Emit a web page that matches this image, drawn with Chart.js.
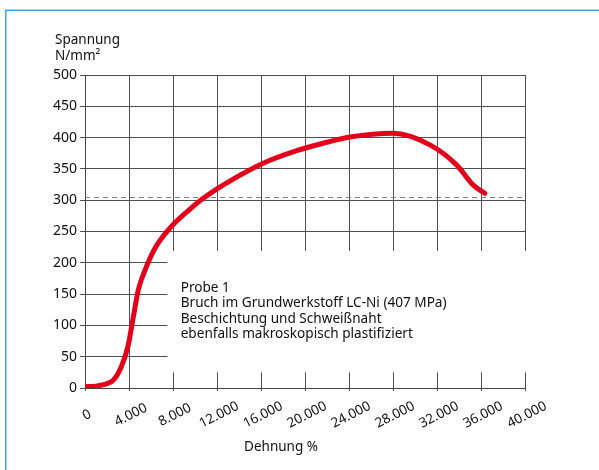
<!DOCTYPE html>
<html>
<head>
<meta charset="utf-8">
<script src="https://cdn.jsdelivr.net/npm/chart.js@4/dist/chart.umd.min.js"></script>
<style>
  html, body { margin: 0; padding: 0; background: #fff; }
  canvas { display: block; }
</style>
</head>
<body>
<canvas id="chart" width="599" height="470"></canvas>
<script>
/*********************************************************
 * DATA
 *********************************************************/
const strain = [0, 1000, 2000, 2600, 3300, 3900, 4400, 4850, 5450, 6350, 7700, 9500,
                10450, 12000, 13200, 16200, 19250, 21650, 24100, 28000, 31400, 33800, 35300, 36350];
const stress = [2, 3, 7, 13, 34, 66, 114, 157, 188, 223, 255, 285,
                299, 318, 331, 359, 379, 391, 401, 407, 388, 356, 324, 311];

const xTickValues = [0, 4000, 8000, 12000, 16000, 20000, 24000, 28000, 32000, 36000, 40000];
const xTickLabels = ["0", "4.000", "8.000", "12.000", "16.000", "20.000", "24.000", "28.000", "32.000", "36.000", "40.000"];
const yTickLabels = ["0", "50", "100", "150", "200", "250", "300", "350", "400", "450", "500"];

const refStress = 305;   // gestrichelte Linie
const yTitle = ["Spannung", "N/mm²"];
const xTitle = "Dehnung %";
const noteLines = [
  "Probe 1",
  "Bruch im Grundwerkstoff LC-Ni (407 MPa)",
  "Beschichtung und Schweißnaht",
  "ebenfalls makroskopisch plastifiziert"
];

const FONT = '"Noto Sans", "Open Sans", sans-serif';
const TEXT = "#111";

/*********************************************************
 * PLUGIN: Rahmen, Textfeld, Beschriftung
 *********************************************************/
const decor = {
  id: "decor",
  beforeDraw(chart) {
    const c = chart.ctx;
    c.save();
    c.fillStyle = "#fff";
    c.fillRect(0, 0, chart.width, chart.height);
    // blauer Rahmen
    c.strokeStyle = "#3ca8e0";
    c.lineWidth = 1.5;
    c.beginPath();
    c.moveTo(5.8, chart.height);
    c.lineTo(5.8, 10.2);
    c.lineTo(chart.width, 10.2);
    c.stroke();
    c.restore();
  },
  beforeDatasetsDraw(chart) {
    const c = chart.ctx;
    const x = chart.scales.x, y = chart.scales.y;
    const area = chart.chartArea;
    c.save();
    // weisses Feld hinter dem Text
    const l = x.getPixelForValue(7500);
    const t = y.getPixelForValue(219);
    const b = y.getPixelForValue(25);
    c.fillStyle = "#fff";
    c.fillRect(l, t, area.right + 4 - l, b - t);

    // gestrichelte Linie
    const yr = Math.round(y.getPixelForValue(refStress)) + 0.5;
    c.strokeStyle = "#808080";
    c.lineWidth = 1;
    c.setLineDash([5, 4]);
    c.beginPath();
    c.moveTo(area.left, yr);
    c.lineTo(area.right, yr);
    c.stroke();
    c.setLineDash([]);

    // Text
    c.fillStyle = TEXT;
    c.font = "13.6px " + FONT;
    c.textAlign = "left";
    c.textBaseline = "alphabetic";
    const tx = x.getPixelForValue(8700);
    noteLines.forEach((s, i) => c.fillText(s, tx, 291.5 + i * 15.5));
    c.restore();
  },
  afterDraw(chart) {
    const c = chart.ctx;
    const x = chart.scales.x;
    c.save();
    c.fillStyle = TEXT;
    c.font = "13.5px " + FONT;
    // X-Achse, schraeg
    c.textAlign = "center";
    c.textBaseline = "middle";
    xTickValues.forEach((v, i) => {
      c.save();
      c.translate(x.getPixelForValue(v) + 2, 415);
      c.rotate(-27 * Math.PI / 180);
      c.fillText(xTickLabels[i], 0, 0);
      c.restore();
    });
    c.fillText(xTitle, 281, 447);
    // Y-Titel
    c.textAlign = "left";
    c.textBaseline = "alphabetic";
    c.fillText(yTitle[0], 55, 44);
    c.fillText(yTitle[1], 55, 60);
    c.restore();
  }
};

/*********************************************************
 * CHART
 *********************************************************/
const ctx = document.getElementById("chart").getContext("2d");

new Chart(ctx, {
  type: "line",
  data: {
    datasets: [{
      data: strain.map((v, i) => ({ x: v, y: stress[i] })),
      borderColor: "#e2001a",
      borderWidth: 5,
      borderCapStyle: "round",
      borderJoinStyle: "round",
      pointRadius: 0,
      cubicInterpolationMode: "monotone",
      fill: false
    }]
  },
  options: {
    responsive: false,
    animation: false,
    events: [],
    layout: { padding: { left: 0, right: 74, top: 75, bottom: 82 } },
    plugins: { legend: { display: false }, tooltip: { enabled: false } },
    scales: {
      x: {
        type: "linear",
        min: 0,
        max: 40000,
        afterFit: s => { s.height = 0; },
        afterBuildTicks: s => { s.ticks = xTickValues.map(v => ({ value: v })); },
        ticks: { display: false },
        grid: { color: "#505050", lineWidth: 1, tickLength: 3 },
        border: { color: "#444", width: 1 }
      },
      y: {
        min: 0,
        max: 500,
        afterFit: s => { s.width = 85; },
        ticks: {
          stepSize: 50,
          padding: 3,
          color: TEXT,
          font: { family: FONT, size: 14 },
          callback: (v, i) => yTickLabels[i]
        },
        grid: { color: "#505050", lineWidth: 1, tickLength: 5 },
        border: { color: "#444", width: 1 }
      }
    }
  },
  plugins: [decor]
});
</script>
</body>
</html>
